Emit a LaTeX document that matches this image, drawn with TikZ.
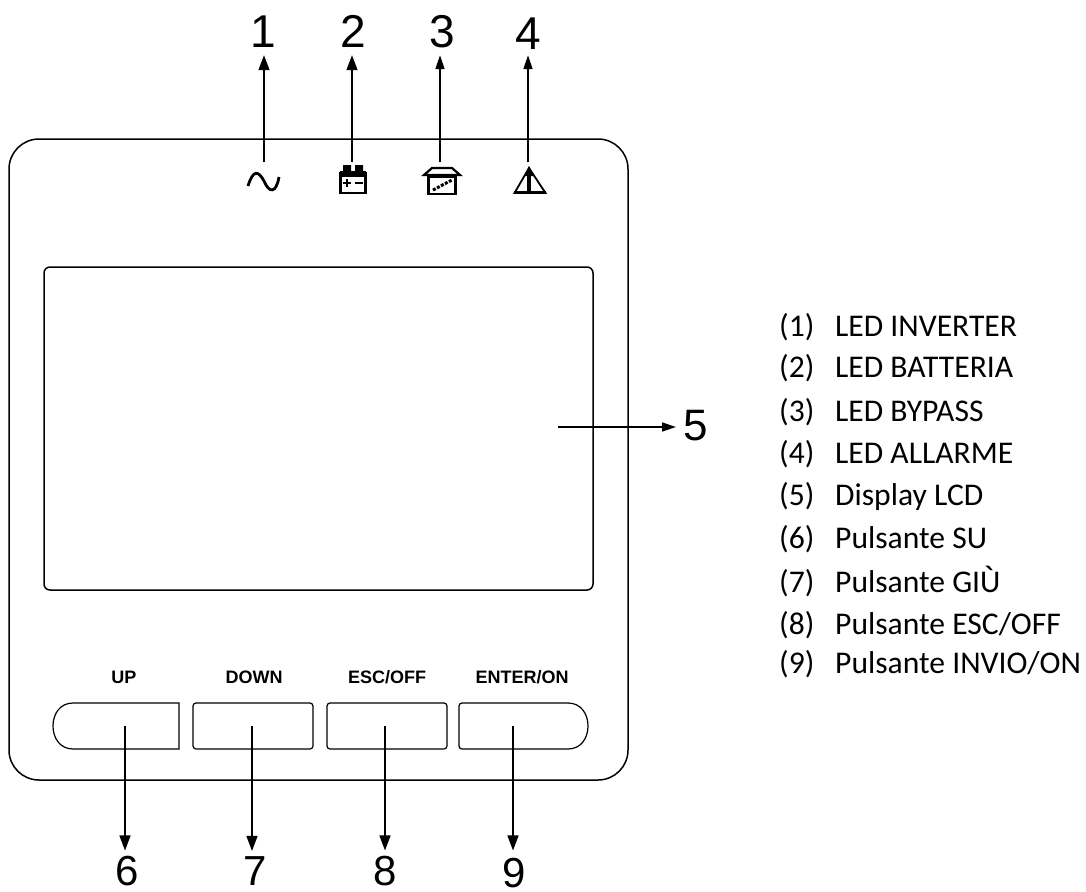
\documentclass[tikz,border=0pt]{standalone}
\usepackage{fontspec}
\setmainfont{Liberation Sans}
\newfontfamily\listfont{Carlito}
\usetikzlibrary{arrows.meta}
\tikzset{
  x=1pt,y=-1pt,
  frame/.style={draw=black,line width=1.5pt},
  thinframe/.style={draw=black,line width=1.2pt},
  lead/.style={draw=black,line width=1.4pt,-{Triangle[length=15pt,width=11pt]}},
  leadsmall/.style={draw=black,line width=1.4pt,-{Triangle[length=14pt,width=9pt]}},
  digit/.style={anchor=base,inner xsep=0pt,inner ysep=#1,font=\fontsize{46}{46}\selectfont,text depth=0pt},
  digitlow/.style={anchor=base,inner sep=0pt,font=\fontsize{42}{42}\selectfont,text depth=0pt},
  btn/.style={font=\bfseries\fontsize{18}{18}\selectfont,inner sep=0pt},
  item/.style={anchor=base west,inner sep=0pt,font=\listfont\fontsize{31.6}{32}\selectfont},
  icon/.style={draw=black,line width=2.8pt,line join=miter},
}
\begin{document}
\begin{tikzpicture}
\useasboundingbox (0,0) rectangle (1086,891);
% housing
\draw[frame,rounded corners=30pt] (9,139) rectangle (628,780);
% LCD
\draw[frame,rounded corners=6pt] (44,267) rectangle (593,590);
% buttons
\draw[thinframe] (73,703) -- (179,703) -- (179,749) -- (73,749) .. controls (60,749) and (53,738) .. (53,726) .. controls (53,714) and (60,703) .. (73,703) -- cycle;
\draw[thinframe,rounded corners=3pt] (193,703) rectangle (313,749);
\draw[thinframe,rounded corners=3pt] (327,703) rectangle (447,749);
\draw[thinframe,rounded corners=3pt] (568,749) -- (459,749) -- (459,703) -- (568,703);
\draw[thinframe] (568,703) .. controls (581,703) and (588,714) .. (588,726) .. controls (588,738) and (581,749) .. (568,749);
% button captions
\node[btn] (lup) at (124,677) {UP};
\node[btn] (ldown) at (254,677) {DOWN};
\node[btn] (lesc) at (387,677) {ESC/OFF};
\node[btn] (lent) at (522,677) {ENTER/ON};
% icons
\draw[icon] (248,186) .. controls (253,170) and (258,170) .. (264,181) .. controls (269,193) and (276,194) .. (279,177);
\draw[icon] (340.5,173) rectangle (365.5,193);
\fill (343,165) rectangle (351,172) (355,165) rectangle (363,172);
\fill (340,171) rectangle (366,177);
\draw[line width=2pt] (343,183) -- (351,183) (347,179) -- (347,187) (355,183) -- (363,183);
\draw[icon] (428.5,177) rectangle (455.5,194);
\draw[icon,line width=2.2pt,fill=white] (424,175) -- (432,168) -- (452,168) -- (460,175) -- cycle;
\draw[line width=3pt,dash pattern=on 3pt off 1.5pt] (433,190) -- (452,180);
\draw[icon,line width=1.8pt] (529,168) -- (514.5,193) -- (545.5,193) -- cycle;
\draw[line width=3.5pt] (514,192.5) -- (546,192.5);
\draw[line width=3.5pt] (529,170) -- (529,192);
\fill (529,166) -- (534,176) -- (524,176) -- cycle;
% anchors of the leaders
\coordinate (i1) at (264,162);
\coordinate (i2) at (352,162);
\coordinate (i3) at (440,162);
\coordinate (i4) at (528,162);
\coordinate (i5) at (558,427);
\coordinate (b6) at (125,726);
\coordinate (b7) at (252,726);
\coordinate (b8) at (385,726);
\coordinate (b9) at (513,726);
% digits
\node[digit=7pt] (n1) at (263,48) {1};
\node[digit=7pt] (n2) at (353,48) {2};
\node[digit=7pt] (n3) at (442,48) {3};
\node[digit=5pt] (n4) at (528,50) {4};
\node[anchor=base west,inner sep=0pt,font=\fontsize{44}{44}\selectfont,text depth=0pt] (n5) at (683,440) {5};
\node[digitlow] (n6) at (127,885) {6};
\node[digitlow] (n7) at (255,885) {7};
\node[digitlow] (n8) at (385,885) {8};
\node[digitlow] (n9) at (514,887) {9};
% leaders
\draw[lead] (i1) -- (i1 |- n1.south);
\draw[lead] (i2) -- (i2 |- n2.south);
\draw[leadsmall] (i3) -- (i3 |- n3.south);
\draw[leadsmall] (i4) -- (i4 |- n4.south);
\draw[leadsmall] (i5) -- ([xshift=-7pt]n5.west |- i5);
\draw[lead,shorten >=5pt] (b6) -- (b6 |- n6.north);
\draw[lead,shorten >=5pt] (b7) -- (b7 |- n7.north);
\draw[lead,shorten >=5pt] (b8) -- (b8 |- n8.north);
\draw[lead,shorten >=7pt] (b9) -- (b9 |- n9.north);
% list
\node[item] (k1) at (779,336) {(1)}; \node[item] (t1) at (835,336) {LED INVERTER};
\node[item] (k2) at (779,377) {(2)}; \node[item] (t2) at (835,377) {LED BATTERIA};
\node[item] (k3) at (779,421) {(3)}; \node[item] (t3) at (835,421) {LED BYPASS};
\node[item] (k4) at (779,463) {(4)}; \node[item] (t4) at (835,463) {LED ALLARME};
\node[item] (k5) at (779,505) {(5)}; \node[item] (t5) at (835,505) {Display LCD};
\node[item] (k6) at (779,548) {(6)}; \node[item] (t6) at (835,548) {Pulsante SU};
\node[item] (k7) at (779,592) {(7)}; \node[item] (t7) at (835,592) {Pulsante GIÙ};
\node[item] (k8) at (779,634) {(8)}; \node[item] (t8) at (835,634) {Pulsante ESC/OFF};
\node[item] (k9) at (779,673) {(9)}; \node[item] (t9) at (835,673) {Pulsante INVIO/ON};
\end{tikzpicture}
\end{document}
